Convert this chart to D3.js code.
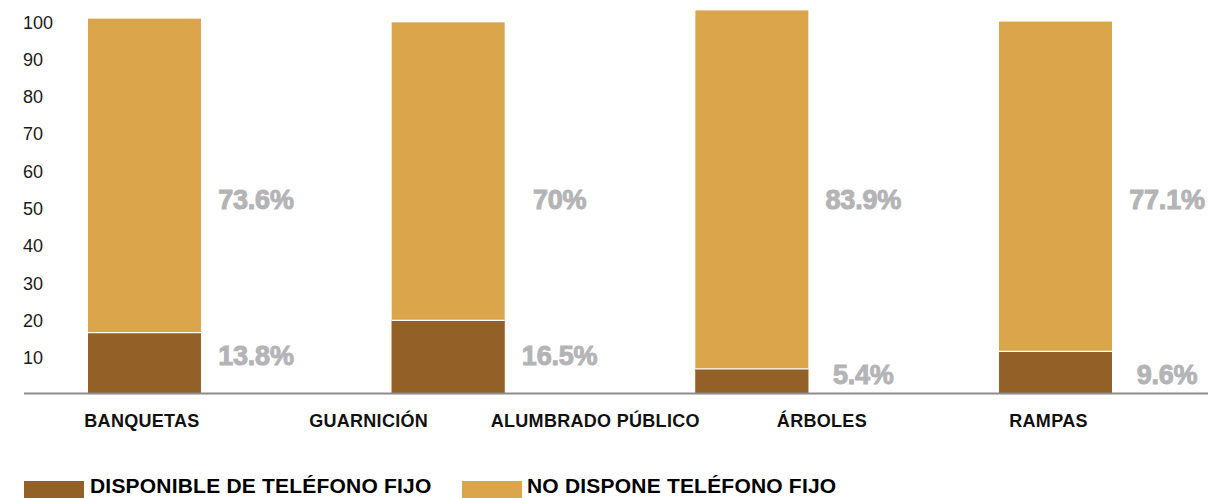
<!DOCTYPE html>
<html>
<head>
<meta charset="utf-8">
<script src="https://cdn.jsdelivr.net/npm/d3@7"></script>
<style>
  html, body { margin: 0; padding: 0; background: #ffffff; }
  svg { display: block; }
</style>
</head>
<body>
<svg id="chart" width="1208" height="498"></svg>
<script>
// ---- data ----
const categories = ["BANQUETAS", "GUARNICIÓN", "ALUMBRADO PÚBLICO", "ÁRBOLES", "RAMPAS"];
const barIds = ["b1", "b2", "b3", "b4"];
const disponible = [16.3, 19.6, 6.6, 11.3];          // brown segment heights
const noDispone = [84.2, 79.9, 96.1, 88.4];           // tan segment heights
const disponibleLabels = ["13.8%", "16.5%", "5.4%", "9.6%"];
const noDisponeLabels = ["73.6%", "70%", "83.9%", "77.1%"];
const yTicks = [10, 20, 30, 40, 50, 60, 70, 80, 90, 100];
const seriesNames = ["DISPONIBLE DE TELÉFONO FIJO", "NO DISPONE TELÉFONO FIJO"];

// ---- layout / style ----
const W = 1208, H = 498;
const colBrown = "#936127", colTan = "#DBA54B", colPct = "#B4B4B7";
const sans = "'Liberation Sans', Arial, sans-serif";
const tanLabelAt = 52;                      // label anchor in data units
const brownLabelAt = [10.2, 10.2, 5.1, 5.1];

const svg = d3.select("#chart");

const y = d3.scaleLinear().domain([0, 100]).range([393.5, 20.5]);
const xBar = d3.scaleBand().domain(barIds).range([88, 1112]).paddingInner(0.628).paddingOuter(0);
const xCat = d3.scalePoint().domain(categories).range([141.5, 1048]);

const bars = barIds.map((id, i) => ({
  id, d: disponible[i], n: noDispone[i],
  dl: disponibleLabels[i], nl: noDisponeLabels[i], bl: brownLabelAt[i]
}));

// y tick labels (no axis line)
const yAxis = d3.axisLeft(y).tickValues(yTicks).tickSize(0).tickPadding(0);
const gy = svg.append("g").call(yAxis);
gy.select(".domain").remove();
gy.selectAll("text")
  .attr("x", 23).attr("dy", "0.42em")
  .attr("text-anchor", "start")
  .style("font-family", sans).style("font-size", "18px").style("fill", "#1a1a1a");

// bars
const g = svg.append("g");
g.selectAll("rect.tan").data(bars).join("rect")
  .attr("class", "tan")
  .attr("x", b => xBar(b.id)).attr("width", xBar.bandwidth())
  .attr("y", b => y(b.d + b.n)).attr("height", b => y(0) - y(b.d + b.n))
  .attr("fill", colTan);
g.selectAll("rect.brown").data(bars).join("rect")
  .attr("class", "brown")
  .attr("x", b => xBar(b.id)).attr("width", xBar.bandwidth())
  .attr("y", b => y(b.d)).attr("height", b => y(0) - y(b.d))
  .attr("fill", colBrown);
g.selectAll("line.sep").data(bars).join("line")
  .attr("class", "sep")
  .attr("x1", b => xBar(b.id)).attr("x2", b => xBar(b.id) + xBar.bandwidth())
  .attr("y1", b => y(b.d)).attr("y2", b => y(b.d))
  .attr("stroke", "#ffffff").attr("stroke-width", 1.2);

// baseline
svg.append("line")
  .attr("x1", 24).attr("x2", W).attr("y1", y(0)).attr("y2", y(0))
  .attr("stroke", "#8c8c8c").attr("stroke-width", 2.2);

// percentage labels
const pct = svg.append("g")
  .style("font-family", sans).style("font-weight", "bold")
  .style("font-size", "27px").style("fill", colPct)
  .style("stroke", colPct).style("stroke-width", "1px")
  .style("letter-spacing", "-0.2px").attr("text-anchor", "middle");
pct.selectAll("text.nl").data(bars).join("text")
  .attr("class", "nl")
  .attr("x", b => xBar(b.id) + xBar.bandwidth() + 55)
  .attr("y", y(tanLabelAt)).attr("dy", "0.36em")
  .text(b => b.nl);
pct.selectAll("text.dl").data(bars).join("text")
  .attr("class", "dl")
  .attr("x", b => xBar(b.id) + xBar.bandwidth() + 55)
  .attr("y", b => y(b.bl)).attr("dy", "0.36em")
  .text(b => b.dl);

// category labels
const xAxis = d3.axisBottom(xCat).tickSize(0).tickPadding(0);
const gx = svg.append("g").attr("transform", "translate(0,427)").call(xAxis);
gx.select(".domain").remove();
gx.selectAll("text")
  .attr("y", 0).attr("dy", 0)
  .style("font-family", sans).style("font-weight", "bold")
  .style("font-size", "18px").style("letter-spacing", "0.3px").style("fill", "#111111");

// legend
const legend = [
  { name: seriesNames[0], color: colBrown, sx: 24, tx: 90 },
  { name: seriesNames[1], color: colTan, sx: 462, tx: 527 }
];
const lg = svg.append("g");
lg.selectAll("rect").data(legend).join("rect")
  .attr("x", d => d.sx).attr("y", 481).attr("width", 60).attr("height", 17)
  .attr("fill", d => d.color);
lg.selectAll("text").data(legend).join("text")
  .attr("x", d => d.tx).attr("y", 493)
  .style("font-family", sans).style("font-weight", "bold")
  .style("font-size", "21px").style("letter-spacing", "0.2px").style("fill", "#000000")
  .text(d => d.name);
</script>
</body>
</html>
